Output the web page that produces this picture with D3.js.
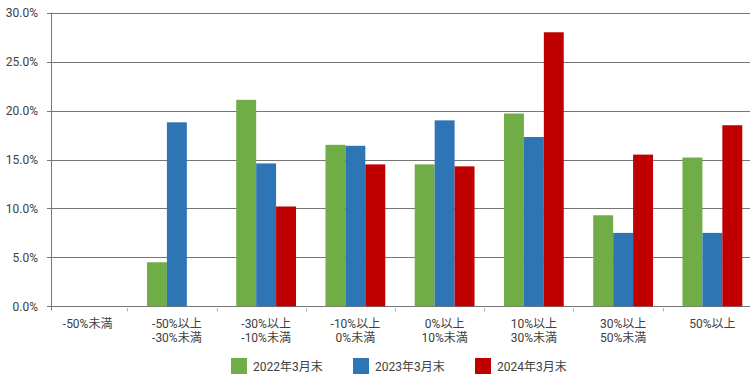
<!DOCTYPE html>
<html>
<head>
<meta charset="utf-8">
<script src="https://cdn.jsdelivr.net/npm/d3@7"></script>
<style>
  body { margin: 0; background: #fff; }
  text { font-family: Roboto, "Noto Sans CJK JP", sans-serif; fill: #404040; }
</style>
</head>
<body>
<div id="chart"></div>
<script>
// categories (two-line labels) and series
const categories = ["-50%未満", "-50%以上\n-30%未満", "-30%以上\n-10%未満", "-10%以上\n0%未満",
  "0%以上\n10%未満", "10%以上\n30%未満", "30%以上\n50%未満", "50%以上"];
const seriesNames = ["2022年3月末", "2023年3月末", "2024年3月末"];
const values2022 = [0, 4.5, 21.1, 16.5, 14.5, 19.7, 9.3, 15.2];
const values2023 = [0, 18.8, 14.6, 16.4, 19.0, 17.3, 7.5, 7.5];
const values2024 = [0, 0, 10.2, 14.5, 14.3, 28.0, 15.5, 18.5];
const yTicks = [0, 5, 10, 15, 20, 25, 30];
const colors = ["#70AD47", "#2E75B6", "#C00000"];

const width = 750, height = 380;
const plot = { left: 51, right: 750, top: 12.7, bottom: 306.3 };

const svg = d3.select("#chart").append("svg")
  .attr("width", width).attr("height", height);

const y = d3.scaleLinear().domain([0, 30]).range([plot.bottom, plot.top]);

// category scale: bars sit slightly off the plot edges, as in the original
const x = d3.scaleBand().domain(categories).range([43, 757])
  .paddingInner(0.33).paddingOuter(0.165);
const xs = d3.scaleBand().domain(d3.range(3)).range([0, x.bandwidth()]);

// gridlines
svg.append("g").selectAll("line").data(yTicks).join("line")
  .attr("x1", plot.left - 4).attr("x2", plot.right)
  .attr("y1", d => Math.round(y(d)) + 0.5).attr("y2", d => Math.round(y(d)) + 0.5)
  .attr("stroke", "#767676").attr("stroke-width", 1);

// y labels
svg.append("g").selectAll("text").data(yTicks).join("text")
  .attr("x", 38).attr("y", d => y(d) + 4.5)
  .attr("text-anchor", "end").attr("font-size", 12)
  .text(d => d.toFixed(1) + "%");

// y axis line
svg.append("line")
  .attr("x1", plot.left + 0.5).attr("x2", plot.left + 0.5)
  .attr("y1", plot.top).attr("y2", plot.bottom + 4)
  .attr("stroke", "#767676");

// bars
const allSeries = [values2022, values2023, values2024];
allSeries.forEach((vals, si) => {
  svg.append("g").selectAll("rect").data(vals).join("rect")
    .attr("x", (d, i) => x(categories[i]) + xs(si))
    .attr("width", xs.bandwidth())
    .attr("y", d => y(d))
    .attr("height", d => y(0) - y(d))
    .attr("fill", colors[si]);
});

// category ticks
svg.append("g").selectAll("line").data(categories.slice(1)).join("line")
  .attr("x1", d => Math.round(x(d) - x.step() * 0.165 - 5) + 0.5)
  .attr("x2", d => Math.round(x(d) - x.step() * 0.165 - 5) + 0.5)
  .attr("y1", plot.bottom + 2).attr("y2", plot.bottom + 5)
  .attr("stroke", "#aaa");

// category labels
const labels = svg.append("g").selectAll("text").data(categories).join("text")
  .attr("x", d => x(d) + x.bandwidth() / 2)
  .attr("y", 328)
  .attr("text-anchor", "middle").attr("font-size", 12);
labels.each(function (d) {
  const parts = d.split("\n");
  d3.select(this).selectAll("tspan").data(parts).join("tspan")
    .attr("x", x(d) + x.bandwidth() / 2)
    .attr("dy", (p, i) => i === 0 ? 0 : 14)
    .text(p => p);
});

// legend
const legend = svg.append("g").selectAll("g").data(seriesNames).join("g")
  .attr("transform", (d, i) => `translate(${231 + i * 122},358)`);
legend.append("rect").attr("width", 16).attr("height", 16)
  .attr("fill", (d, i) => colors[i]);
legend.append("text").attr("x", 22).attr("y", 12.5)
  .attr("font-size", 12).text(d => d);
</script>
</body>
</html>
